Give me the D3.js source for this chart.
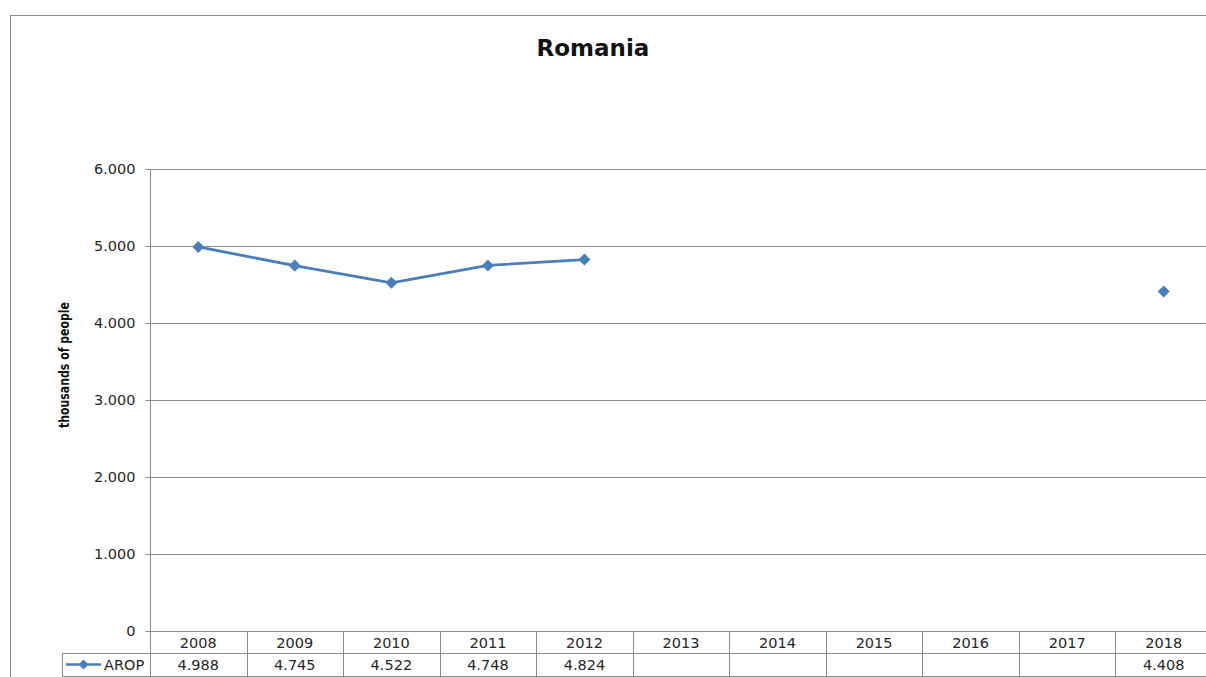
<!DOCTYPE html>
<html><head><meta charset="utf-8">
<script src="https://cdn.jsdelivr.net/npm/d3@7"></script>
<style>body{margin:0;background:#fff;overflow:hidden}svg{display:block}</style>
</head><body><svg id="c" width="1206" height="677"></svg>
<script>
const categories = ["2008","2009","2010","2011","2012","2013","2014","2015","2016","2017","2018"];
const values = [4988, 4745, 4522, 4748, 4824, null, null, null, null, null, 4408];
const valueLabels = ["4.988","4.745","4.522","4.748","4.824","","","","","","4.408"];
const yTicks = [0, 1000, 2000, 3000, 4000, 5000, 6000];
const seriesName = "AROP";
const title = "Romania";
const yTitle = "thousands of people";

(function () {
const svg = d3.select("#c");
const col = "#4a7ebb", grid = "#8c8c8c", tfont = "DejaVu Sans", tcol = "#262626";
const pL = 150, pR = 1212, pT = 169, pB = 631;
const x = d3.scaleBand().domain(categories).range([pL, pR]);
const y = d3.scaleLinear().domain([0, 6000]).range([pB, pT]);

svg.append("rect").attr("x", 10.5).attr("y", 15.5).attr("width", 1300).attr("height", 800)
  .attr("fill", "none").attr("stroke", "#8c8c8c").attr("stroke-width", 1);

svg.append("text").attr("x", 593).attr("y", 56).attr("text-anchor", "middle")
  .attr("font-family", tfont).attr("font-weight", "bold").attr("font-size", 23).attr("fill", "#111").text(title);

svg.append("g").selectAll("line").data(yTicks.filter(d => d > 0)).join("line")
  .attr("x1", pL).attr("x2", pR).attr("y1", d => Math.round(y(d)) + 0.5).attr("y2", d => Math.round(y(d)) + 0.5)
  .attr("stroke", grid);

const fmt = d => d === 0 ? "0" : d3.format(",")(d).replace(/,/g, ".");
const ya = svg.append("g").attr("transform", `translate(${pL + 0.5},0)`)
  .call(d3.axisLeft(y).tickValues(yTicks).tickFormat(fmt).tickSize(5).tickPadding(10));
ya.select(".domain").attr("stroke", grid).attr("d", `M0,${pT}V${pB}`);
ya.selectAll(".tick line").attr("stroke", grid);
ya.selectAll(".tick text").attr("font-family", tfont).attr("font-size", 14.5).attr("fill", tcol);

svg.append("text").attr("transform", `translate(69,365) rotate(-90)`).attr("text-anchor", "middle")
  .attr("font-family", "DejaVu Sans Condensed").attr("font-weight", "bold").attr("font-size", 14)
  .attr("textLength", 126).attr("lengthAdjust", "spacingAndGlyphs").attr("fill", "#111").text(yTitle);

const tTop = 631, tMid = 653, tBot = 676;
const tbl = svg.append("g").attr("stroke", grid).attr("fill", "none");
tbl.append("line").attr("x1", pL).attr("x2", pR).attr("y1", tTop + 0.5).attr("y2", tTop + 0.5);
tbl.append("line").attr("x1", 62).attr("x2", pR).attr("y1", tMid + 0.5).attr("y2", tMid + 0.5);
tbl.append("line").attr("x1", 62).attr("x2", pR).attr("y1", tBot + 0.5).attr("y2", tBot + 0.5);
tbl.append("line").attr("x1", 62.5).attr("x2", 62.5).attr("y1", tMid).attr("y2", tBot);
tbl.selectAll(".v").data(categories).join("line").attr("class", "v")
  .attr("x1", d => Math.round(x(d)) + 0.5).attr("x2", d => Math.round(x(d)) + 0.5).attr("y1", tTop).attr("y2", tBot);

svg.append("g").selectAll("text").data(categories).join("text")
  .attr("x", d => x(d) + x.bandwidth() / 2).attr("y", 648).attr("text-anchor", "middle")
  .attr("font-family", tfont).attr("font-size", 14.5).attr("fill", tcol).text(d => d);
svg.append("g").selectAll("text").data(categories).join("text")
  .attr("x", d => x(d) + x.bandwidth() / 2).attr("y", 670).attr("text-anchor", "middle")
  .attr("font-family", tfont).attr("font-size", 14.5).attr("fill", tcol).text((d, i) => valueLabels[i]);

const diamond = s => d3.symbol(d3.symbolSquare, s * s)();
svg.append("line").attr("x1", 66).attr("x2", 101).attr("y1", 664.5).attr("y2", 664.5).attr("stroke", col).attr("stroke-width", 2.5);
svg.append("path").attr("d", diamond(7)).attr("transform", "translate(83.5,664.5) rotate(45)").attr("fill", col);
svg.append("text").attr("x", 104).attr("y", 670).attr("font-family", tfont).attr("font-size", 14.5).attr("fill", tcol).text(seriesName);

const pts = categories.map((c, i) => ({c, v: values[i]}));
const line = d3.line().defined(d => d.v != null).x(d => x(d.c) + x.bandwidth() / 2).y(d => y(d.v));
svg.append("path").datum(pts).attr("d", line).attr("fill", "none").attr("stroke", col).attr("stroke-width", 2.8);
svg.append("g").selectAll("path").data(pts.filter(d => d.v != null)).join("path")
  .attr("d", diamond(8.5))
  .attr("transform", d => `translate(${x(d.c) + x.bandwidth() / 2},${y(d.v)}) rotate(45)`).attr("fill", col);
})();
</script></body></html>
